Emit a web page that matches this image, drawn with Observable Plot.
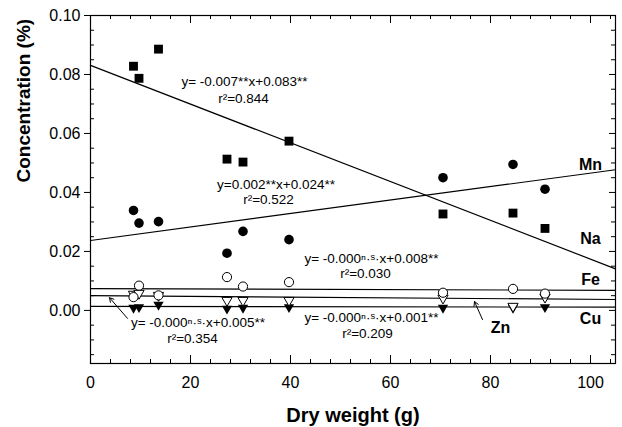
<!DOCTYPE html>
<html><head><meta charset="utf-8">
<script src="https://cdn.jsdelivr.net/npm/d3@7"></script>
<script src="https://cdn.jsdelivr.net/npm/@observablehq/plot@0.6"></script>
<style>
html,body{margin:0;padding:0;background:#fff;}
svg{display:block;}
</style></head><body><div id="chart"></div>
<script>
// Dry weight (g) of each sample
const dryWeight = [8.6, 9.7, 13.6, 27.3, 30.5, 39.7, 70.5, 84.5, 90.9];
// Concentrations (%)
const na = [0.0828, 0.0787, 0.0886, 0.0513, 0.0503, 0.0574, 0.0327, 0.0330, 0.0278];
const mn = [0.0339, 0.0296, 0.0301, 0.0194, 0.0268, 0.0240, 0.0450, 0.0495, 0.0411];
const fe = [0.0045, 0.0084, 0.0051, 0.0113, 0.0081, 0.0096, 0.0060, 0.0073, 0.0057];
const zn = [0.0055, 0.0058, 0.0051, 0.0034, 0.0034, 0.0034, 0.0042, 0.0014, 0.0045];
const cu = [0.0009, 0.0011, 0.0019, 0.0006, 0.0009, 0.0011, 0.0009, 0.0009, 0.0011];
// Regression line end points (x = 0 and x = 105)
const fitX = [0, 105];
const naFit = [0.0831, 0.0141];
const mnFit = [0.0237, 0.0477];
const feFit = [0.0074, 0.0068];
const znFit = [0.0050, 0.0037];
const cuFit = [0.0014, 0.0011];
// Ticks
const xTicks = [0, 20, 40, 60, 80, 100];
const xMinorTicks = [4, 8, 12, 16, 24, 28, 32, 36, 44, 48, 52, 56, 64, 68, 72, 76, 84, 88, 92, 96, 104];
const yTicks = [0, 0.02, 0.04, 0.06, 0.08, 0.10];
const yMinorTicks = [-0.015, -0.01, -0.005, 0.005, 0.01, 0.015, 0.025, 0.03, 0.035, 0.045, 0.05, 0.055, 0.065, 0.07, 0.075, 0.085, 0.09, 0.095];
// Annotations
const eqText = ["y= -0.007**x+0.083**", "r²=0.844", "y=0.002**x+0.024**", "r²=0.522",
  "y= -0.000ⁿ·ˢ·x+0.008**", "r²=0.030", "y= -0.000ⁿ·ˢ·x+0.005**", "r²=0.354",
  "y= -0.000ⁿ·ˢ·x+0.001**", "r²=0.209"];
const eqX = [30.8, 30.6, 37.1, 35.6, 56.2, 55.0, 21.5, 20.4, 56.2, 55.4];
const eqY = [0.0774, 0.0718, 0.0428, 0.0375, 0.0177, 0.0124, -0.0042, -0.0096, -0.0023, -0.0079];
const elemText = ["Mn", "Na", "Fe", "Cu", "Zn"];
const elemX = [100, 100, 100, 100, 82];
const elemY = [0.0492, 0.0244, 0.0105, -0.0027, -0.0058];
const arrowX1 = [78.4, 7.4];
const arrowY1 = [-0.0031, -0.0027];
const arrowX2 = [76.8, 3.8];
const arrowY2 = [0.0030, 0.0043];

const rows = dryWeight.map((x, i) => ({x, na: na[i], mn: mn[i], fe: fe[i], zn: zn[i], cu: cu[i]}));
const fits = fitX.map((x, i) => ({x, na: naFit[i], mn: mnFit[i], fe: feFit[i], zn: znFit[i], cu: cuFit[i]}));
const eqs = eqText.map((t, i) => ({t, x: eqX[i], y: eqY[i]}));
const elems = elemText.map((t, i) => ({t, x: elemX[i], y: elemY[i]}));
const arrows = arrowX1.map((x1, i) => ({x1, y1: arrowY1[i], x2: arrowX2[i], y2: arrowY2[i]}));

const W = 622, H = 427, mt = 15, mr = 7, mb = 64, ml = 90;
const fw = W - ml - mr, fh = H - mt - mb;
const font = "'Liberation Sans', Arial, Helvetica, sans-serif";

const chart = Plot.plot({
  width: W, height: H,
  marginTop: mt, marginRight: mr, marginBottom: mb, marginLeft: ml,
  style: {fontFamily: font, fontSize: "16px", color: "black", background: "white"},
  x: {domain: [0, 105]},
  y: {domain: [-0.018, 0.10]},
  marks: [
    Plot.axisY(yTicks, {anchor: "left", tickSize: 6, tickPadding: 4, tickFormat: d3.format(".2f"), label: null, fontSize: 16}),
    Plot.axisX(xTicks, {anchor: "bottom", tickSize: 0, tickPadding: 13, label: null, fontSize: 16}),
    // inward ticks
    Plot.ruleX(xTicks, {x: d => d, insetBottom: fh - 8, stroke: "black"}),
    Plot.ruleX(xTicks, {x: d => d, insetTop: fh - 8, stroke: "black"}),
    Plot.ruleX(xMinorTicks, {x: d => d, insetBottom: fh - 4, stroke: "black"}),
    Plot.ruleX(xMinorTicks, {x: d => d, insetTop: fh - 4, stroke: "black"}),
    Plot.ruleY(yTicks, {y: d => d, insetLeft: fw - 6, stroke: "black"}),
    Plot.ruleY(yMinorTicks, {y: d => d, insetLeft: fw - 4, stroke: "black"}),
    Plot.ruleY(yMinorTicks, {y: d => d, insetRight: fw - 4, stroke: "black"}),
    Plot.frame({stroke: "black", strokeWidth: 1.2}),
    // regression lines
    Plot.line(fits, {x: "x", y: "na", stroke: "black", strokeWidth: 1.2}),
    Plot.line(fits, {x: "x", y: "mn", stroke: "black", strokeWidth: 1.2}),
    Plot.line(fits, {x: "x", y: "fe", stroke: "black", strokeWidth: 1.2}),
    Plot.line(fits, {x: "x", y: "zn", stroke: "black", strokeWidth: 1.2}),
    Plot.line(fits, {x: "x", y: "cu", stroke: "black", strokeWidth: 1.2}),
    // points
    Plot.dot(rows, {x: "x", y: "na", symbol: "square", fill: "black", r: 5}),
    Plot.dot(rows, {x: "x", y: "mn", symbol: "circle", fill: "black", r: 4.8}),
    Plot.dot(rows, {x: "x", y: "cu", symbol: "triangle", rotate: 180, fill: "black", r: 3.8}),
    Plot.dot(rows, {x: "x", y: "zn", symbol: "triangle", rotate: 180, fill: "white", stroke: "black", strokeWidth: 1, r: 3.8}),
    Plot.dot(rows, {x: "x", y: "fe", symbol: "circle", fill: "white", stroke: "black", strokeWidth: 1, r: 4.6}),
    // annotations
    Plot.text(eqs, {x: "x", y: "y", text: "t", fontSize: 13.5, fill: "black", textAnchor: "middle", lineAnchor: "middle"}),
    Plot.text(elems, {x: "x", y: "y", text: "t", fontSize: 16, fontWeight: "bold", fill: "black", textAnchor: "middle", lineAnchor: "middle"}),
    Plot.arrow(arrows, {x1: "x1", y1: "y1", x2: "x2", y2: "y2", stroke: "black", strokeWidth: 1, headLength: 7}),
    // axis titles
    Plot.text(["Dry weight (g)"], {frameAnchor: "bottom", dy: 52, fontSize: 20, fontWeight: "bold", fill: "black", lineAnchor: "middle"}),
    Plot.text(["Concentration (%)"], {frameAnchor: "left", dx: -67, dy: -7, rotate: -90, fontSize: 19, fontWeight: "bold", fill: "black", lineAnchor: "middle"})
  ]
});
document.getElementById("chart").appendChild(chart);
</script>
</body></html>
